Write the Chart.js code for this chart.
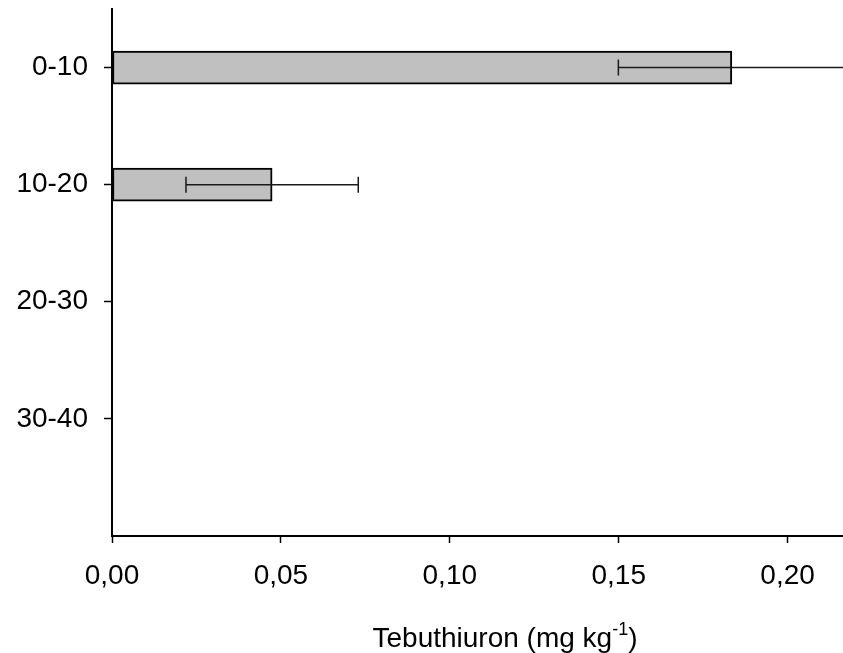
<!DOCTYPE html>
<html>
<head>
<meta charset="utf-8">
<script src="https://cdn.jsdelivr.net/npm/chart.js@4"></script>
<style>
  html, body { margin: 0; padding: 0; background: #fff; }
  #wrap { width: 843px; height: 653px; }
</style>
</head>
<body>
<div id="wrap"><canvas id="c" width="843" height="653"></canvas></div>
<script>
// ---- data ----
const categories = ['0-10', '10-20', '20-30', '30-40'];
const values = [0.1835, 0.0474, null, null];
const errors = [0.0336, 0.0255, null, null];
const xTickValues = [0, 0.05, 0.10, 0.15, 0.20];
const xTickLabels = ['0,00', '0,05', '0,10', '0,15', '0,20'];
const titleMain = 'Tebuthiuron (mg kg';
const titleSup = '-1';
const titleTail = ')';

const FONT = "'Liberation Sans', Arial, sans-serif";

const errorBars = {
  id: 'errorBars',
  afterDatasetsDraw(chart) {
    const ctx = chart.ctx;
    const meta = chart.getDatasetMeta(0);
    const xs = chart.scales.x;
    ctx.save();
    ctx.strokeStyle = '#1a1a1a';
    ctx.lineWidth = 1.5;
    values.forEach((v, i) => {
      const e = errors[i];
      if (v == null || e == null) return;
      const el = meta.data[i];
      if (!el) return;
      const y = el.y;
      const x1 = xs.getPixelForValue(v - e);
      const x2 = xs.getPixelForValue(v + e);
      const cap = 8;
      ctx.beginPath();
      ctx.moveTo(x1, y); ctx.lineTo(x2, y);
      ctx.moveTo(x1, y - cap); ctx.lineTo(x1, y + cap);
      ctx.moveTo(x2, y - cap); ctx.lineTo(x2, y + cap);
      ctx.stroke();
    });
    ctx.restore();
  }
};

const axisTitle = {
  id: 'axisTitle',
  afterDraw(chart) {
    const ctx = chart.ctx;
    ctx.save();
    ctx.fillStyle = '#000';
    ctx.textBaseline = 'alphabetic';
    ctx.textAlign = 'left';
    const big = '28px ' + FONT;
    const small = '18px ' + FONT;
    ctx.font = big;
    const w1 = ctx.measureText(titleMain).width;
    const w3 = ctx.measureText(titleTail).width;
    ctx.font = small;
    const w2 = ctx.measureText(titleSup).width;
    const total = w1 + w2 + w3;
    const cx = 505;
    const base = 647;
    let x = cx - total / 2;
    ctx.font = big;
    ctx.fillText(titleMain, x, base);
    x += w1;
    ctx.font = small;
    ctx.fillText(titleSup, x, base - 12);
    x += w2;
    ctx.font = big;
    ctx.fillText(titleTail, x, base);
    ctx.restore();
  }
};

new Chart(document.getElementById('c'), {
  type: 'bar',
  data: {
    datasets: [{
      data: categories.map((c, i) => ({ y: i + 0.5, x: values[i] })),
      backgroundColor: '#c0c0c0',
      borderColor: '#000',
      borderWidth: 2,
      borderSkipped: false,
      barThickness: 33
    }]
  },
  options: {
    indexAxis: 'y',
    responsive: false,
    animation: false,
    layout: { padding: { top: 9, right: 0, left: 0, bottom: 0 } },
    plugins: { legend: { display: false }, tooltip: { enabled: false } },
    scales: {
      x: {
        type: 'linear',
        min: 0,
        max: 0.2164,
        offset: false,
        afterBuildTicks: (s) => { s.ticks = xTickValues.map(v => ({ value: v })); },
        afterFit: (s) => { s.height = 117; },
        ticks: {
          callback: (v, i) => xTickLabels[i],
          color: '#000',
          font: { family: FONT, size: 28 },
          padding: 16,
          maxRotation: 0,
          autoSkip: false
        },
        grid: { offset: false, drawOnChartArea: false, drawTicks: true, tickLength: 7, tickWidth: 1.5, tickColor: '#000' },
        border: { display: true, color: '#000', width: 2 }
      },
      y: {
        type: 'linear',
        min: 0,
        max: 4.5,
        reverse: true,
        offset: false,
        afterBuildTicks: (s) => { s.ticks = categories.map((c, i) => ({ value: i + 0.5 })); },
        afterFit: (s) => { s.width = 112; s.paddingTop = 0; s.paddingBottom = 0; },
        ticks: {
          callback: (v, i) => categories[i],
          color: '#000',
          font: { family: FONT, size: 28 },
          padding: 16,
          autoSkip: false
        },
        grid: { offset: false, drawOnChartArea: false, drawTicks: true, tickLength: 8, tickWidth: 1.5, tickColor: '#000' },
        border: { display: true, color: '#000', width: 2 }
      }
    }
  },
  plugins: [errorBars, axisTitle]
});
</script>
</body>
</html>
